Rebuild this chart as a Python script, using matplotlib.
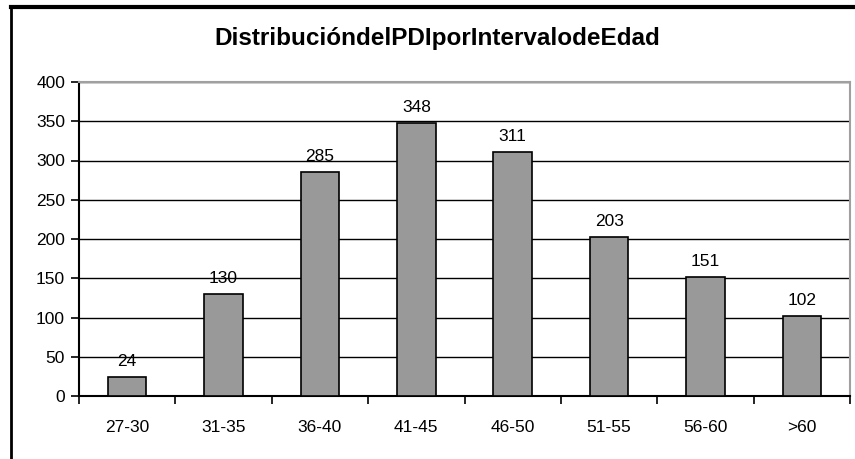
import matplotlib
matplotlib.use("Agg")
import matplotlib.pyplot as plt
from matplotlib.lines import Line2D
import numpy as np

categories = ["27-30", "31-35", "36-40", "41-45", "46-50", "51-55", "56-60", ">60"]
values = [24, 130, 285, 348, 311, 203, 151, 102]
yticks = [0, 50, 100, 150, 200, 250, 300, 350, 400]
title = "DistribucióndelPDIporIntervalodeEdad"

plt.rcParams["font.family"] = ["Liberation Sans", "DejaVu Sans"]

W, H = 855, 459
fig = plt.figure(figsize=(W / 100, H / 100), dpi=100)

ax = fig.add_axes([79 / W, (H - 396) / H, 771 / W, 314 / H])

x = np.arange(len(categories))
ax.bar(x, values, width=0.4, color="#999999", edgecolor="black", linewidth=1.2, zorder=3)

for xi, v in zip(x, values):
    ax.annotate(str(v), (xi, v), xytext=(0, 8), textcoords="offset points",
                ha="center", va="baseline", fontsize=12.5, zorder=4)

ax.set_xlim(-0.5, len(categories) - 0.5)
ax.set_ylim(0, 400)
ax.set_yticks(yticks)
ax.yaxis.grid(True, color="black", linewidth=1.0, zorder=1)
ax.set_axisbelow(True)

# category labels centred, tick marks at the boundaries
ax.set_xticks(x)
ax.set_xticklabels(categories, fontsize=12.5)
ax.tick_params(axis="x", length=0, pad=17)
ax.set_xticks(np.arange(len(categories) + 1) - 0.5, minor=True)
ax.tick_params(axis="x", which="minor", length=6, width=1.2, direction="out", color="black")
ax.tick_params(axis="y", length=6, width=1.2, labelsize=12.5, pad=4)

for side in ("left", "bottom"):
    ax.spines[side].set_color("black")
    ax.spines[side].set_linewidth(1.5)
for side in ("top", "right"):
    ax.spines[side].set_color("#a0a0a0")
    ax.spines[side].set_linewidth(1.5)

fig.text(437 / W, 1 - 45 / H, title, ha="center", va="baseline",
         fontsize=17.5, fontweight="bold")

# outer chart frame (top and left edges)
fig.add_artist(Line2D([11 / W, 1], [1 - 7 / H, 1 - 7 / H], transform=fig.transFigure,
                      color="black", linewidth=3))
fig.add_artist(Line2D([11 / W, 11 / W], [0, 1 - 7 / H], transform=fig.transFigure,
                      color="black", linewidth=2))

fig.savefig("out.png", dpi=100)
